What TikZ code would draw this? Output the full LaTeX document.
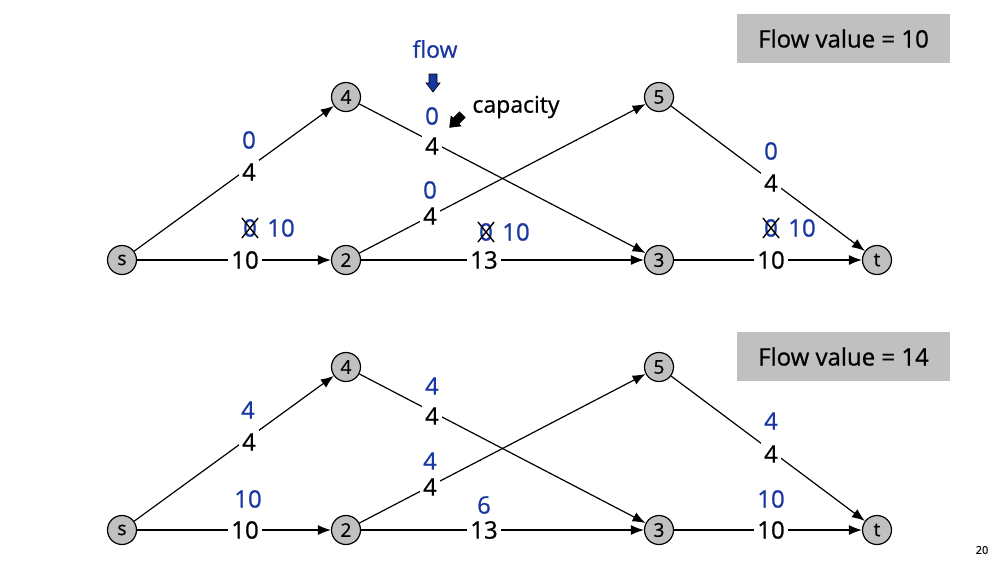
\documentclass[tikz,border=0pt]{standalone}
\usepackage{fontspec}
\setmainfont{Open Sans}[FakeBold=0.8]
\usetikzlibrary{arrows.meta}
\definecolor{flowblue}{RGB}{25,55,160}
\definecolor{nodegray}{RGB}{192,192,192}
\begin{document}
\begin{tikzpicture}[x=1pt,y=-1pt,
  vtx/.style={circle,draw,fill=nodegray,line width=1.2pt,minimum size=29pt,inner sep=0pt,font=\fontsize{19}{19}\selectfont},
  edge/.style={line width=1.2pt,-{Latex[length=13pt,width=10pt]}},
  caplabel/.style={fill=white,inner sep=3pt,font=\fontsize{24}{24}\selectfont},
  flw/.style={text=flowblue,inner sep=0pt,font=\fontsize{24}{24}\selectfont},
  valbox/.style={fill=nodegray,minimum width=213pt,minimum height=49pt,font=\fontsize{24}{24}\selectfont},
  xout/.style={line width=1.4pt,black},
  blockarrow/.style={draw=black,line width=0.6pt},
]
\useasboundingbox (0,0) rectangle (1006,574);

% ---------- top network ----------
\node[vtx] (s)  at (122,260) {s};
\node[vtx] (n2) at (346,260) {2};
\node[vtx] (n3) at (659,260) {3};
\node[vtx] (t)  at (877,260) {t};
\node[vtx] (n4) at (346,97)  {4};
\node[vtx] (n5) at (659,97)  {5};

\draw[edge] (s) -- (n4);
\draw[edge] (s) -- (n2);
\draw[edge] (n4) -- (n3);
\draw[edge] (n2) -- (n5);
\draw[edge] (n2) -- (n3);
\draw[edge] (n5) -- (t);
\draw[edge] (n3) -- (t);

\node[caplabel] (c1) at (249,172) {4};
\node[caplabel] (c2) at (245,260) {10};
\node[caplabel] (c3) at (432,146) {4};
\node[caplabel] (c4) at (430,216) {4};
\node[caplabel] (c5) at (484,260) {13};
\node[caplabel] (c6) at (771,183) {4};
\node[caplabel] (c7) at (771,260) {10};

\node[flw] (f1) at (249,140) {0};
\node[flw] (f2) at (250,228) {0};
\draw[xout] ([shift={(-1,-1)}]f2.north west) -- ([shift={(1,1)}]f2.south east) ([shift={(1,-1)}]f2.north east) -- ([shift={(-1,1)}]f2.south west);
\node[flw] (f2b) at (281,228) {10};
\node[flw] (f3) at (432,116) {0};
\node[flw] (f4) at (430,190) {0};
\node[flw] (f5) at (486,232) {0};
\draw[xout] ([shift={(-1,-1)}]f5.north west) -- ([shift={(1,1)}]f5.south east) ([shift={(1,-1)}]f5.north east) -- ([shift={(-1,1)}]f5.south west);
\node[flw] (f5b) at (516,232) {10};
\node[flw] (f6) at (771,151) {0};
\node[flw] (f7) at (771,228) {0};
\draw[xout] ([shift={(-1,-1)}]f7.north west) -- ([shift={(1,1)}]f7.south east) ([shift={(1,-1)}]f7.north east) -- ([shift={(-1,1)}]f7.south west);
\node[flw] (f7b) at (802,228) {10};

% legend
\node[text=flowblue,font=\fontsize{23}{23}\selectfont] (flowlbl) at (435,49) {flow};
\begin{scope}[shift={(433,83)}]
  \draw[blockarrow,fill=flowblue] (-4,-9) -- (4,-9) -- (4,0) -- (7,0) -- (0,9) -- (-7,0) -- (-4,0) -- cycle;
\end{scope}
\node[font=\fontsize{23}{23}\selectfont] (caplbl) at (516,107) {capacity};
\begin{scope}[shift={(456,121)},rotate=-45]
  \draw[blockarrow,fill=black] (-4,-9) -- (4,-9) -- (4,0) -- (7,0) -- (0,9) -- (-7,0) -- (-4,0) -- cycle;
\end{scope}

\node[valbox] (v1) at (843.5,38.5) {Flow value = 10};

% ---------- bottom network ----------
\node[vtx] (bs)  at (122,530) {s};
\node[vtx] (b2) at (346,530) {2};
\node[vtx] (b3) at (659,530) {3};
\node[vtx] (bt)  at (877,530) {t};
\node[vtx] (b4) at (346,367)  {4};
\node[vtx] (b5) at (659,367)  {5};

\draw[edge] (bs) -- (b4);
\draw[edge] (bs) -- (b2);
\draw[edge] (b4) -- (b3);
\draw[edge] (b2) -- (b5);
\draw[edge] (b2) -- (b3);
\draw[edge] (b5) -- (bt);
\draw[edge] (b3) -- (bt);

\node[caplabel] (bc1) at (249,442) {4};
\node[caplabel] (bc2) at (245,530) {10};
\node[caplabel] (bc3) at (432,416) {4};
\node[caplabel] (bc4) at (430,487) {4};
\node[caplabel] (bc5) at (484,530) {13};
\node[caplabel] (bc6) at (771,454) {4};
\node[caplabel] (bc7) at (771,530) {10};

\node[flw] (bf1) at (248,410) {4};
\node[flw] (bf2) at (248,499) {10};
\node[flw] (bf3) at (432,386) {4};
\node[flw] (bf4) at (430,461) {4};
\node[flw] (bf5) at (484,505) {6};
\node[flw] (bf6) at (771,421) {4};
\node[flw] (bf7) at (771,499) {10};

\node[valbox] (v2) at (843.5,356.5) {Flow value = 14};

\node[font=\fontsize{11}{11}\selectfont] (pg) at (982,550) {20};
\end{tikzpicture}
\end{document}
